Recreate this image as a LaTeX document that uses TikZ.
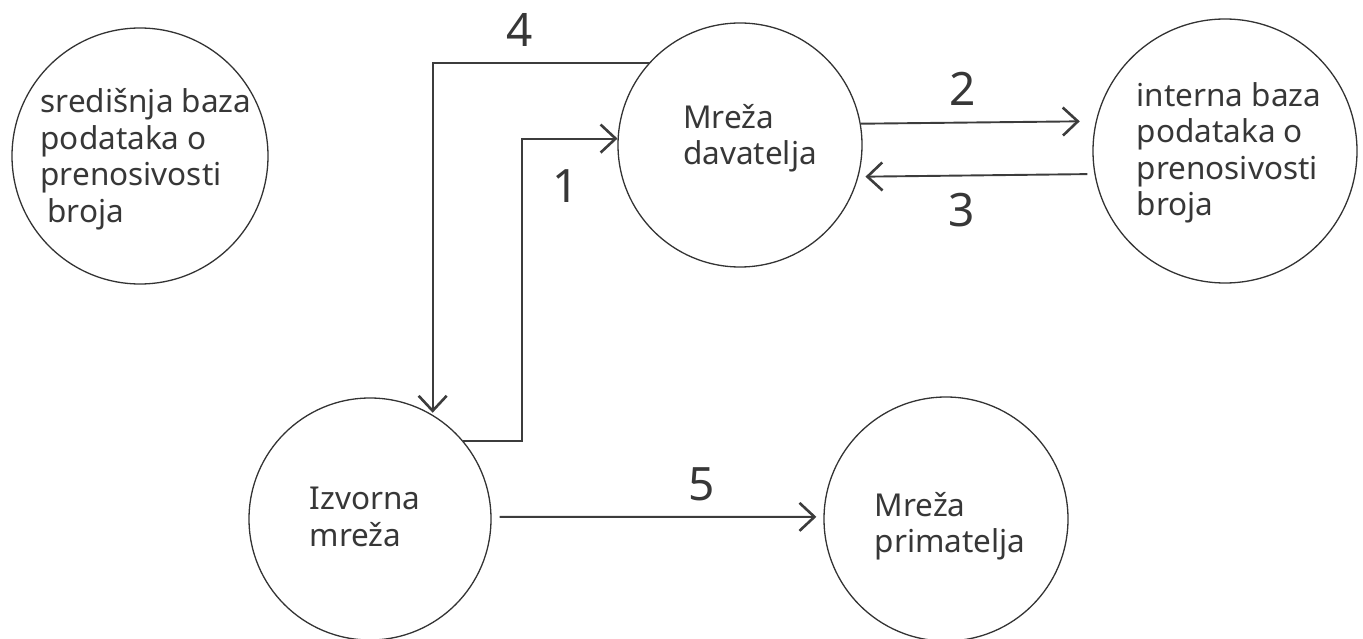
\documentclass[tikz,border=0pt]{standalone}
\usepackage{fontspec}
\setmainfont{Noto Sans}
\usetikzlibrary{arrows.meta}
\definecolor{ink}{RGB}{55,55,55}
\definecolor{lineC}{RGB}{60,60,60}
\begin{document}
\begin{tikzpicture}[x=1pt,y=-1pt,
  circ/.style={circle,draw=black!80,line width=1.3pt,inner sep=0pt},
  txt/.style={align=left,text=ink,inner sep=0pt,font=\fontsize{31.5}{36.5}\selectfont},
  num/.style={text=ink,inner sep=0pt,anchor=base,font=\fontsize{46}{50}\selectfont},
  conn/.style={draw=lineC,line width=1.9pt},
  arr/.style={conn,-{Straight Barb[length=15pt,width=28pt,line width=2.6pt]}}]
\useasboundingbox (0,0) rectangle (1363,639);

\node[circ,minimum size=256pt] (src) at (140,156) {};
\node[txt] (srct) at (146,159) {središnja baza\\podataka o\\prenosivosti\\\hspace*{7pt}broja};
\node[circ,minimum size=244pt] (dav) at (740,145) {};
\node[txt] (davt) at (750,138) {Mreža\\davatelja};
\node[circ,minimum size=264pt] (int) at (1225,151) {};
\node[txt] (intt) at (1229,153) {interna baza\\podataka o\\prenosivosti\\broja};
\node[circ,minimum size=242pt] (izv) at (370,519) {};
\node[txt] (izvt) at (365,517) {Izvorna\\mreža};
\node[circ,minimum size=244pt] (pri) at (946,519) {};
\node[txt] (prit) at (950,526) {Mreža\\primatelja};

\draw[arr,shorten >=2pt] (dav.138.6) -| (izv.59.7);
\draw[arr] (izv.40.7) -- ++(59,0) |- (dav.177.2);
\draw[arr,shorten >=16pt] (dav.10.4) -- (int.167.8);
\draw[arr,shorten >=7pt,shorten <=7pt] (int.190.5) -- (dav.345.8);
\draw[arr,shorten >=7pt,shorten <=8pt] (izv.1) -- (pri.179);

\node[num] (l4) at (520,47) {4};
\node[num] (l1) at (566,203) {1};
\node[num] (l2) at (963,106) {2};
\node[num] (l3) at (962,227) {3};
\node[num] (l5) at (702,500) {5};
\end{tikzpicture}
\end{document}
